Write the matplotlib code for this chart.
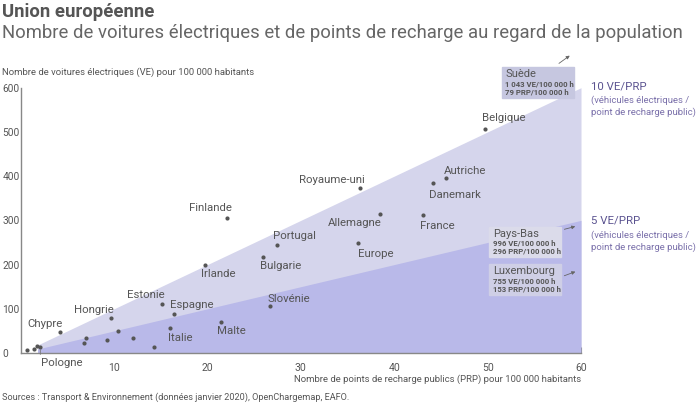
import numpy as np
import matplotlib.pyplot as plt

plt.rcParams['font.family'] = ['Roboto', 'DejaVu Sans']

# data (PRP / 100 000 hab, VE / 100 000 hab)
countries = ['Chypre', 'Hongrie', 'Estonie', 'Espagne', 'Italie', 'Malte',
             'Finlande', 'Irlande', 'Bulgarie', 'Portugal', 'Slovénie', 'Pologne',
             'Royaume-uni', 'Allemagne', 'Europe', 'France', 'Danemark',
             'Autriche', 'Belgique']
prp = [4.25, 9.7, 15.1, 16.4, 16.0, 21.4,
       22.1, 19.7, 25.9, 27.4, 26.7, 2.1,
       36.3, 38.5, 36.1, 43.1, 44.1,
       45.5, 49.7]
ve = [48, 80, 110, 89, 57, 71,
      305, 199, 217, 244, 107, 13,
      374, 315, 248, 311, 384,
      395, 507]

# unlabelled countries
other_prp = [0.7, 1.4, 1.75, 6.8, 7.0, 9.2, 10.4, 12.0, 14.3]
other_ve = [7, 8, 16, 23, 34, 30, 49, 33, 14]

ratios = [10, 5]
x_start = 1.8
x_end = 60

# label offsets in pixels (dx, dy) from each dot
label_offsets = {
    'Chypre': (-15, 8), 'Hongrie': (-17, 8), 'Estonie': (-16, 9),
    'Espagne': (18, 9), 'Italie': (10, -10), 'Malte': (11, -9),
    'Finlande': (-17, 10), 'Irlande': (14, -9), 'Bulgarie': (18, -9),
    'Portugal': (18, 9), 'Slovénie': (19, 7), 'Pologne': (21, -16),
    'Royaume-uni': (-28, 8), 'Allemagne': (-26, -9), 'Europe': (18, -11),
    'France': (14, -11), 'Danemark': (22, -12), 'Autriche': (19, 7),
    'Belgique': (19, 11),
}

fig = plt.figure(figsize=(7, 4.03), dpi=100)
ax = fig.add_axes([20.7 / 700, 50 / 403, 560.3 / 700, 265.3 / 403])

xs = np.array([x_start, x_end])
ax.fill_between(xs, 0, ratios[0] * xs, color='#d5d5ec', lw=0, zorder=1)
ax.fill_between(xs, 0, ratios[1] * xs, color='#b9b9e9', lw=0, zorder=2)

ax.scatter(other_prp, other_ve, s=9, color='#555555', zorder=5, lw=0)
ax.scatter(prp, ve, s=9, color='#555555', zorder=5, lw=0)

for name, x, y in zip(countries, prp, ve):
    dx, dy = label_offsets[name]
    ax.annotate(name, (x, y), xytext=(dx, dy), textcoords='offset pixels',
                ha='center', va='center', fontsize=8.2, color='#555555', zorder=6)
# small leader line for Pologne
ax.annotate('', (2.1, 13), xytext=(0, -10), textcoords='offset pixels',
            arrowprops=dict(arrowstyle='-', color='#777777', lw=0.6))

ax.set_xlim(0, 60)
ax.set_ylim(0, 600)
ax.set_xticks([10, 20, 30, 40, 50, 60])
ax.set_yticks([0, 100, 200, 300, 400, 500, 600])
ax.tick_params(axis='x', direction='in', length=4, color='#777777', labelsize=7.5,
               labelcolor='#555555', pad=7)
ax.tick_params(axis='y', length=0, labelsize=7.3, labelcolor='#555555', pad=13.3)
for lab in ax.get_yticklabels():
    lab.set_horizontalalignment('left')
for side in ['top', 'right']:
    ax.spines[side].set_visible(False)
for side in ['left', 'bottom']:
    ax.spines[side].set_color('#888888')
    ax.spines[side].set_linewidth(1)
ax.set_xlabel('Nombre de points de recharge publics (PRP) pour 100 000 habitants',
              fontsize=6.8, color='#555555', loc='right', labelpad=1.5)

# annotation boxes
boxes = [
    ('Suède', '1 043 VE/100 000 h', '79 PRP/100 000 h', 501.7, 67.3, '#c6c7e0'),
    ('Pays-Bas', '996 VE/100 000 h', '296 PRP/100 000 h', 489.3, 226.7, '#dbdbea'),
    ('Luxembourg', '755 VE/100 000 h', '153 PRP/100 000 h', 489.3, 264.0, '#cfcfe6'),
]
box_w = {'Suède': 72.3, 'Pays-Bas': 71.4, 'Luxembourg': 71.4}
for name, l1, l2, bx, by, col in boxes:
    w = box_w[name]
    h = 30.5
    fig.patches.append(plt.Rectangle((bx / 700, 1 - (by + h) / 403), w / 700, h / 403,
                                     transform=fig.transFigure, color=col, zorder=8))
    fig.text((bx + 3.5) / 700, 1 - (by + 7) / 403, name, fontsize=8, color='#555555',
             va='center', zorder=9)
    fig.text((bx + 3.5) / 700, 1 - (by + 16.5) / 403, l1, fontsize=5.6, color='#555555',
             va='center', fontweight='bold', zorder=9)
    fig.text((bx + 3.5) / 700, 1 - (by + 24.5) / 403, l2, fontsize=5.6, color='#555555',
             va='center', fontweight='bold', zorder=9)

arrows = [((556.7, 65), (572, 54)), ((561.7, 230), (578, 225.7)), ((561.7, 276.7), (578, 270.7))]
for (x0, y0), (x1, y1) in arrows:
    fig.add_artist(plt.matplotlib.patches.FancyArrowPatch(
        (x0 / 700, 1 - y0 / 403), (x1 / 700, 1 - y1 / 403), transform=fig.transFigure,
        arrowstyle='-|>', mutation_scale=5, color='#666666', lw=0.6))

# ratio labels
for ratio, ty in zip(ratios, [86, 221]):
    fig.text(591 / 700, 1 - ty / 403, f'{ratio} VE/PRP', fontsize=8.2, color='#5b5390',
             va='center')
    fig.text(591 / 700, 1 - (ty + 14) / 403, '(véhicules électriques /', fontsize=6.8,
             color='#7a70aa', va='center')
    fig.text(591 / 700, 1 - (ty + 26) / 403, 'point de recharge public)', fontsize=6.8,
             color='#7a70aa', va='center')

fig.text(2 / 700, 1 - 12 / 403, 'Union européenne', fontsize=13.3, fontweight='bold',
         color='#555555', va='center')
fig.text(2 / 700, 1 - 33 / 403,
         'Nombre de voitures électriques et de points de recharge au regard de la population',
         fontsize=13.3, color='#666666', va='center')
fig.text(2 / 700, 1 - 72 / 403, 'Nombre de voitures électriques (VE) pour 100 000 habitants',
         fontsize=6.8, color='#555555', va='center')
fig.text(2 / 700, 1 - 397 / 403,
         'Sources : Transport & Environnement (données janvier 2020), OpenChargemap, EAFO.',
         fontsize=6.6, color='#555555', va='center')

fig.savefig('out.png', dpi=100)
